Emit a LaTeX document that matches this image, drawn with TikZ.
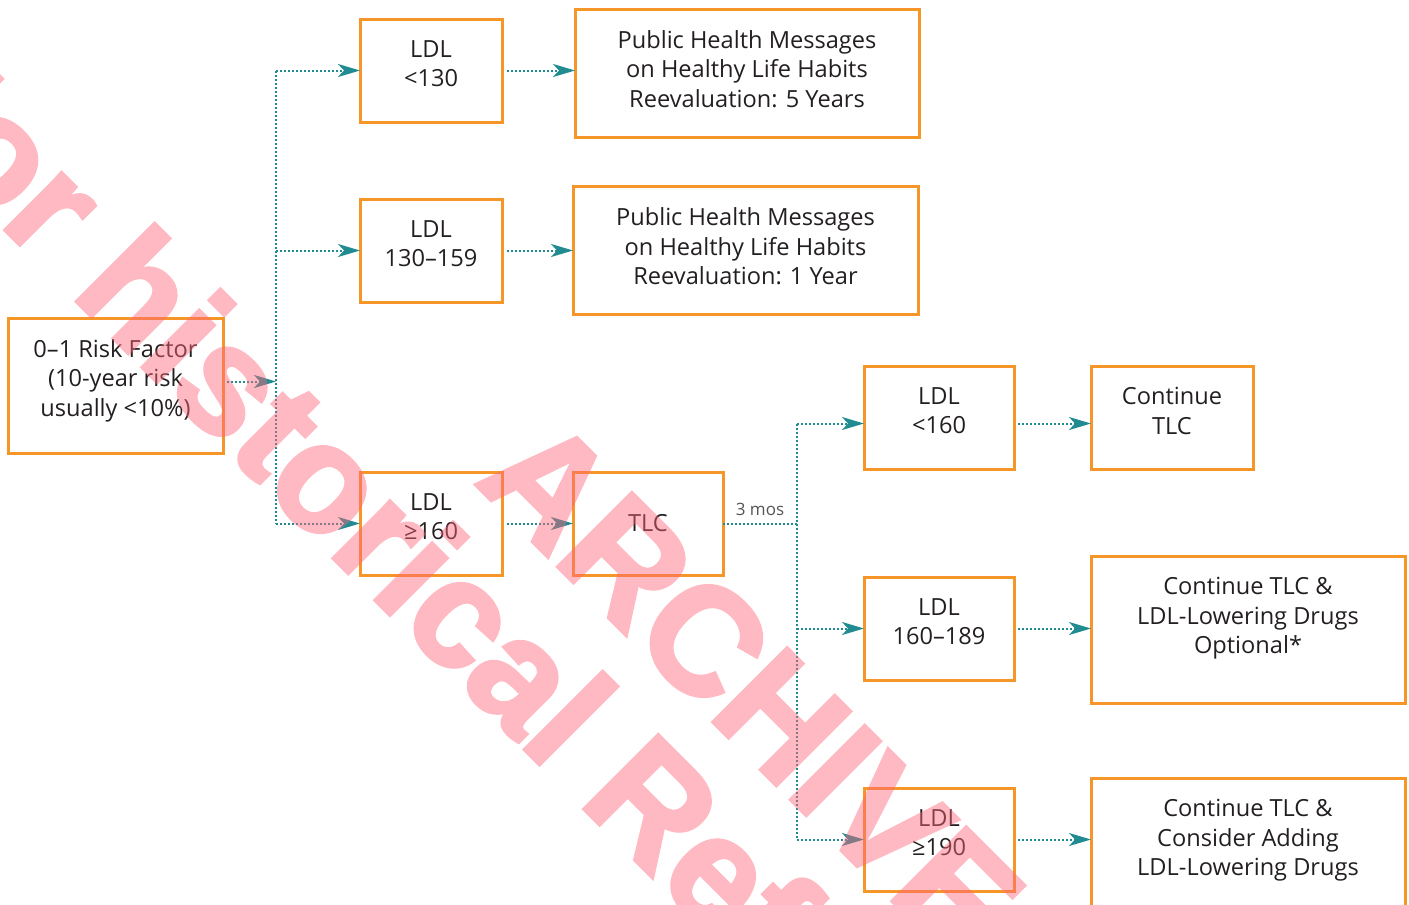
\documentclass[tikz,border=0pt]{standalone}
\usepackage{fontspec}
\setmainfont{Open Sans}
\newfontfamily\markfont[FakeBold=2.5]{Liberation Sans}
\usetikzlibrary{positioning,arrows.meta}
\definecolor{boxorange}{RGB}{247,150,40}
\definecolor{flowteal}{RGB}{32,140,145}
\definecolor{inkgray}{RGB}{35,31,32}
\definecolor{notegray}{RGB}{85,85,85}
\definecolor{markpink}{RGB}{255,100,120}

\begin{document}
\begin{tikzpicture}[node distance = 1cm,
    >={Stealth[length=11pt,width=6.5pt,inset=3pt]},
    box/.style={draw=boxorange,line width=1.5pt,outer sep=0pt,inner sep=0pt,
      minimum width=71pt,minimum height=51.5pt,text=inkgray,
      font=\fontsize{11.8}{14.75}\selectfont},
    txt/.style={anchor=north,yshift=-10.4pt,align=center,inner sep=0pt,text=inkgray,
      font=\fontsize{11.8}{14.75}\selectfont},
    flow/.style={draw=flowteal,line width=1pt,dash pattern=on 1pt off 1pt},
    wmark/.style={rotate=-45,inner sep=0pt,text=markpink,
      font=\markfont\bfseries\fontsize{76}{76}\selectfont}]

    \useasboundingbox (0,0) rectangle (704.5pt,-452.5pt);
    \clip (0,0) rectangle (704.5pt,-452.5pt);

    \node[box,minimum width=107.5pt,minimum height=67.5pt,
      label={[txt]north:{0–1 Risk Factor\\(10-year risk\\usually <10\%)}}] (risk) at (57.75pt,-192.75pt) {};
    \node[box,below right = 9.5pt and 68.5pt of risk,label={[txt]north:{LDL\\≥160}}] (l160) {};
    \node[box,above = 85pt of l160,label={[txt]north:{LDL\\130–159}}] (l159) {};
    \node[box,above = 38.5pt of l159,label={[txt]north:{LDL\\<130}}] (l130) {};
    \node[box,right = 36.5pt of l130,yshift=-1.25pt,minimum width=172pt,minimum height=64pt,
      label={[txt]north:{Public Health Messages\\on Healthy Life Habits\\Reevaluation: 5 Years}}] (msg5) {};
    \node[box,right = 35.5pt of l159,minimum width=172.5pt,minimum height=64pt,
      label={[txt]north:{Public Health Messages\\on Healthy Life Habits\\Reevaluation: 1 Year}}] (msg1) {};
    \node[box,right = 35.5pt of l160,minimum width=75pt] (tlc) {TLC};
    \node[box,right = 70.5pt of tlc,yshift=53pt,minimum width=75pt,label={[txt]north:{LDL\\<160}}] (m160) {};
    \node[box,right = 70.5pt of tlc,yshift=-52.5pt,minimum width=75pt,label={[txt]north:{LDL\\160–189}}] (m189) {};
    \node[box,below = 54pt of m189,minimum width=75pt,label={[txt]north:{LDL\\≥190}}] (m190) {};
    \node[box,right = 38.5pt of m160,minimum width=81pt,label={[txt]north:{Continue\\TLC}}] (c160) {};
    \node[box,right = 38.5pt of m189,yshift=-0.5pt,minimum width=157pt,minimum height=73.5pt,
      label={[txt]north:{Continue TLC \&\\LDL-Lowering Drugs\\Optional*}}] (c189) {};
    \node[box,right = 38.5pt of m190,yshift=-6pt,minimum width=157pt,minimum height=73.5pt,
      label={[txt]north:{Continue TLC \&\\Consider Adding\\LDL-Lowering Drugs}}] (c190) {};

    \coordinate[right = 26.5pt of risk,yshift=2pt] (split);
    \coordinate[right = 37pt of tlc] (split2);

    \draw[flow,->,shorten <=2pt] ([yshift=2pt]risk.east) -- (split);
    \draw[flow] (split |- l130) -- (split |- l160);
    \draw[flow,->] (split |- l130) -- (l130);
    \draw[flow,->] (split |- l159) -- (l159);
    \draw[flow,->] (split |- l160) -- (l160);
    \draw[flow,->,shorten <=2.5pt] (l130.east) -- (l130.east -| msg5.west);
    \draw[flow,->,shorten <=2.5pt] (l159.east) -- (l159.east -| msg1.west);
    \draw[flow,->,shorten <=2.5pt] (l160) -- (tlc);
    \draw[flow] (tlc) -- node[above,text=notegray,font=\fontsize{8.5}{10}\selectfont] {3 mos} (split2);
    \draw[flow] ([yshift=-3pt]split2 |- m160) -- (split2 |- m190);
    \draw[flow,->] ([yshift=-3pt]split2 |- m160) -- ([yshift=-3pt]m160.west);
    \draw[flow,->] (split2 |- m189) -- (m189);
    \draw[flow,->] (split2 |- m190) -- (m190);
    \draw[flow,->,shorten <=2pt] ([yshift=-3pt]m160.east) -- ([yshift=-3pt]c160.west);
    \draw[flow,->,shorten <=2pt] (m189.east) -- (m189.east -| c189.west);
    \draw[flow,->,shorten <=2pt] (m190.east) -- (m190.east -| c190.west);

    \begin{scope}[transparency group,opacity=0.45]
      \node[wmark] (wm1) at (260pt,-334pt) {For historical Reference};
      \node[wmark] (wm2) at (376pt,-343.5pt) {ARCHIVE};
    \end{scope}
\end{tikzpicture}
\end{document}
